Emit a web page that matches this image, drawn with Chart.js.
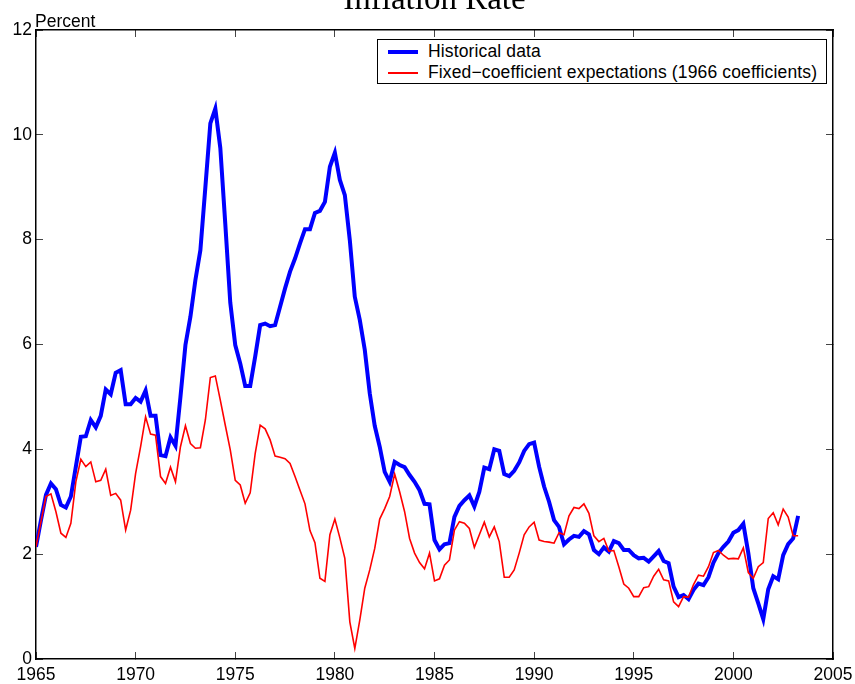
<!DOCTYPE html>
<html>
<head>
<meta charset="utf-8">
<script src="https://cdn.jsdelivr.net/npm/chart.js@4.4.1/dist/chart.umd.min.js"></script>
<style>
html,body{margin:0;padding:0;background:#fff;overflow:hidden;width:855px;height:684px;}
#wrap{position:absolute;left:0;top:-24px;width:855px;height:708px;}
#legend{position:absolute;left:377px;top:39px;background:#fff;border:1px solid #000;padding:1px 9px 1px 10px;font-family:"Liberation Sans",Arial,Helvetica,sans-serif;font-size:17.5px;letter-spacing:0.14px;color:#000;white-space:nowrap;}
#legend .row{height:20.5px;line-height:20.5px;}
#legend .sw{display:inline-block;width:30px;vertical-align:middle;margin-right:10px;}
</style>
</head>
<body>
<div id="wrap"><canvas id="c"></canvas></div>
<div id="legend"></div>
<script>
// ---- data (quarterly, first observation 1965 Q1) ----
const chartTitle = "Inflation Rate";
const yAxisLabel = "Percent";
const firstYear = 1965;
const seriesNames = ["Historical data", "Fixed\u2212coefficient expectations (1966 coefficients)"];
const yearTicks = [1965, 1970, 1975, 1980, 1985, 1990, 1995, 2000, 2005];
const percentTicks = [0, 2, 4, 6, 8, 10, 12];

const historical = [
  2.14, 2.65, 3.13, 3.35,   // 1965
  3.24, 2.94, 2.89, 3.10,   // 1966
  3.67, 4.24, 4.25, 4.56,   // 1967
  4.42, 4.64, 5.14, 5.05,   // 1968
  5.46, 5.51, 4.86, 4.86,   // 1969
  4.98, 4.91, 5.12, 4.64,   // 1970
  4.64, 3.89, 3.87, 4.23,   // 1971
  4.07, 5.00, 5.99, 6.53,   // 1972
  7.23, 7.80, 9.00, 10.22,  // 1973
  10.50, 9.75, 8.30, 6.80,  // 1974
  5.99, 5.64, 5.21, 5.21,   // 1975
  5.77, 6.37, 6.40, 6.35,   // 1976
  6.37, 6.72, 7.07, 7.39,   // 1977
  7.64, 7.93, 8.20, 8.20,   // 1978
  8.51, 8.55, 8.72, 9.39,   // 1979
  9.66, 9.14, 8.85, 7.99,   // 1980
  6.91, 6.47, 5.90, 5.07,   // 1981
  4.45, 4.05, 3.57, 3.38,   // 1982
  3.76, 3.70, 3.66, 3.51,   // 1983
  3.38, 3.22, 2.96, 2.95,   // 1984
  2.27, 2.09, 2.19, 2.21,   // 1985
  2.71, 2.92, 3.03, 3.12,   // 1986
  2.91, 3.19, 3.65, 3.62,   // 1987
  4.00, 3.97, 3.53, 3.49,   // 1988
  3.59, 3.75, 3.97, 4.10,   // 1989
  4.13, 3.67, 3.29, 3.00,   // 1990
  2.65, 2.52, 2.19, 2.28,   // 1991
  2.35, 2.33, 2.44, 2.38,   // 1992
  2.08, 2.00, 2.13, 2.05,   // 1993
  2.25, 2.21, 2.08, 2.08,   // 1994
  1.98, 1.92, 1.93, 1.86,   // 1995
  1.96, 2.06, 1.87, 1.83,   // 1996
  1.38, 1.18, 1.22, 1.14,   // 1997
  1.32, 1.44, 1.41, 1.56,   // 1998
  1.84, 2.02, 2.14, 2.24,   // 1999
  2.41, 2.46, 2.58, 2.02,   // 2000
  1.35, 1.06, 0.76, 1.33,   // 2001
  1.58, 1.52, 1.98, 2.19,   // 2002
  2.30, 2.73                // 2003
];

const fixedCoef = [
  2.14, 2.62, 3.10, 3.15,   // 1965
  2.81, 2.40, 2.32, 2.59,   // 1966
  3.38, 3.81, 3.67, 3.76,   // 1967
  3.38, 3.41, 3.62, 3.12,   // 1968
  3.16, 3.03, 2.46, 2.84,   // 1969
  3.54, 4.05, 4.62, 4.29,   // 1970
  4.27, 3.48, 3.35, 3.66,   // 1971
  3.38, 4.05, 4.45, 4.11,   // 1972
  4.02, 4.03, 4.56, 5.37,   // 1973
  5.40, 4.94, 4.46, 3.99,   // 1974
  3.41, 3.32, 2.97, 3.17,   // 1975
  3.92, 4.46, 4.39, 4.18,   // 1976
  3.87, 3.85, 3.82, 3.73,   // 1977
  3.48, 3.22, 2.96, 2.45,   // 1978
  2.22, 1.54, 1.48, 2.37,   // 1979
  2.67, 2.31, 1.92, 0.71,   // 1980
  0.20, 0.74, 1.35, 1.70,   // 1981
  2.11, 2.67, 2.87, 3.10,   // 1982
  3.53, 3.19, 2.81, 2.30,   // 1983
  2.02, 1.84, 1.72, 2.02,   // 1984
  1.49, 1.53, 1.79, 1.89,   // 1985
  2.46, 2.62, 2.59, 2.49,   // 1986
  2.13, 2.37, 2.61, 2.33,   // 1987
  2.52, 2.24, 1.56, 1.56,   // 1988
  1.70, 2.02, 2.37, 2.52,   // 1989
  2.61, 2.27, 2.24, 2.23,   // 1990
  2.21, 2.41, 2.37, 2.73,   // 1991
  2.89, 2.87, 2.96, 2.78,   // 1992
  2.35, 2.24, 2.30, 2.06,   // 1993
  2.07, 1.76, 1.43, 1.35,   // 1994
  1.19, 1.19, 1.36, 1.38,   // 1995
  1.58, 1.71, 1.51, 1.49,   // 1996
  1.09, 1.00, 1.19, 1.18,   // 1997
  1.42, 1.60, 1.58, 1.76,   // 1998
  2.03, 2.07, 1.98, 1.91,   // 1999
  1.92, 1.91, 2.12, 1.65,   // 2000
  1.54, 1.76, 1.84, 2.68,   // 2001
  2.79, 2.56, 2.86, 2.71,   // 2002
  2.35, 2.35                // 2003
];

// ---- chart ----
const SANS = "'Liberation Sans', Arial, Helvetica, sans-serif";
const SERIF = "'Liberation Serif', 'Times New Roman', serif";
const FS = 17.5;

const toPoints = arr => arr.map((v, i) => ({ x: firstYear + i / 4, y: v }));

const datasets = [
  { label: seriesNames[0], data: toPoints(historical), borderColor: '#0000ff', backgroundColor: '#0000ff',
    borderWidth: 4, pointRadius: 0, tension: 0, fill: false, order: 1 },
  { label: seriesNames[1], data: toPoints(fixedCoef), borderColor: '#ff0000', backgroundColor: '#ff0000',
    borderWidth: 1.6, pointRadius: 0, tension: 0, fill: false, order: 0 }
];

function xAxis(position, showLabels, size) {
  return {
    type: 'linear', position, min: yearTicks[0], max: yearTicks[yearTicks.length - 1],
    afterBuildTicks: s => { s.ticks = yearTicks.map(v => ({ value: v })); },
    afterFit: s => { s.height = size; s.paddingLeft = 0; s.paddingRight = 0; s.paddingTop = 0; s.paddingBottom = 0; },
    ticks: { display: showLabels, font: { family: SANS, size: FS }, color: '#000', padding: 12.5,
             maxRotation: 0, minRotation: 0, autoSkip: false, callback: v => String(v) },
    grid: { display: true, drawOnChartArea: false, drawTicks: true, tickLength: -7, color: '#444', lineWidth: 1 },
    border: { display: true, color: '#000', width: 1.5 }
  };
}
function yAxis(position, showLabels, size) {
  return {
    type: 'linear', position, min: percentTicks[0], max: percentTicks[percentTicks.length - 1],
    afterBuildTicks: s => { s.ticks = percentTicks.map(v => ({ value: v })); },
    afterFit: s => { s.width = size; s.paddingLeft = 0; s.paddingRight = 0; s.paddingTop = 0; s.paddingBottom = 0; },
    ticks: { display: showLabels, font: { family: SANS, size: FS }, color: '#000', padding: 11,
             autoSkip: false, callback: v => String(v) },
    grid: { display: true, drawOnChartArea: false, drawTicks: true, tickLength: -7, color: '#444', lineWidth: 1 },
    border: { display: true, color: '#000', width: 1.5 }
  };
}

const percentLabelPlugin = {
  id: 'percentLabel',
  afterDraw(chart) {
    const { ctx, chartArea } = chart;
    ctx.save();
    ctx.font = FS + 'px ' + SANS;
    ctx.fillStyle = '#000';
    ctx.textAlign = 'left';
    ctx.textBaseline = 'alphabetic';
    ctx.fillText(yAxisLabel, chartArea.left - 1, chartArea.top - 3);
    ctx.restore();
  }
};

new Chart(document.getElementById('c'), {
  type: 'line',
  data: { datasets },
  options: {
    responsive: true,
    maintainAspectRatio: false,
    animation: false,
    events: [],
    layout: { padding: { left: 0, right: 0, top: 5, bottom: 0 } },
    plugins: {
      legend: { display: false },
      tooltip: { enabled: false },
      title: { display: true, text: chartTitle, color: '#000', fullSize: false,
               font: { family: SERIF, size: 33, weight: 'normal' },
               padding: { top: 0, bottom: 9.4 } }
    },
    scales: {
      x: xAxis('bottom', true, 25),
      x2: xAxis('top', false, 0),
      y: yAxis('left', true, 36),
      y2: yAxis('right', false, 22)
    }
  },
  plugins: [percentLabelPlugin]
});

// ---- HTML legend built from the datasets ----
const legendEl = document.getElementById('legend');
datasets.forEach(ds => {
  const row = document.createElement('div');
  row.className = 'row';
  const sw = document.createElement('span');
  sw.className = 'sw';
  sw.style.height = ds.borderWidth >= 3 ? '4px' : '2px';
  sw.style.background = ds.borderColor;
  row.appendChild(sw);
  row.appendChild(document.createTextNode(ds.label));
  legendEl.appendChild(row);
});
</script>
</body>
</html>
